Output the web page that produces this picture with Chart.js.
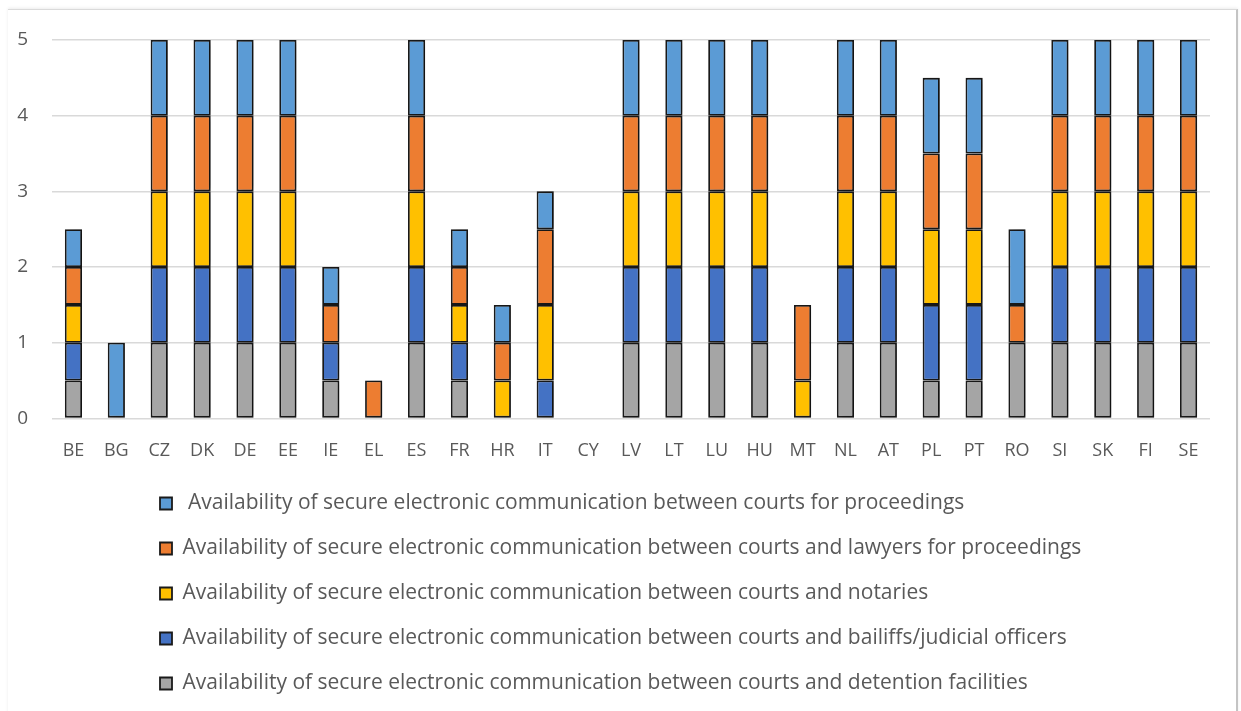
<!DOCTYPE html>
<html>
<head>
<meta charset="utf-8">
<script src="https://cdn.jsdelivr.net/npm/chart.js@4"></script>
<style>
  body { margin: 0; background: #fff; }
  #wrap { position: relative; width: 1241px; height: 711px; }
  #frame {
    position: absolute; left: 8px; top: 9px; width: 1228px; height: 710px;
    border-top: 1px solid #dadada; border-right: 2px solid #c4c4c4;
    box-shadow: 0 -1px 3px rgba(0,0,0,0.08);
    pointer-events: none;
  }
</style>
</head>
<body>
<div id="wrap">
  <canvas id="grafico" width="1241" height="711"></canvas>
  <div id="frame"></div>
</div>
<script>
const paises = ["BE", "BG", "CZ", "DK", "DE", "EE", "IE", "EL", "ES", "FR", "HR", "IT", "CY", "LV", "LT", "LU", "HU", "MT", "NL", "AT", "PL", "PT", "RO", "SI", "SK", "FI", "SE"];

// valores por série, de baixo para cima na pilha
const detencao  = [0.5, 0, 1, 1, 1, 1, 0.5, 0, 1, 0.5, 0,   0,   0, 1, 1, 1, 1, 0,   1, 1, 0.5, 0.5, 1,   1, 1, 1, 1];
const oficiais  = [0.5, 0, 1, 1, 1, 1, 0.5, 0, 1, 0.5, 0,   0.5, 0, 1, 1, 1, 1, 0,   1, 1, 1,   1,   0,   1, 1, 1, 1];
const notarios  = [0.5, 0, 1, 1, 1, 1, 0,   0, 1, 0.5, 0.5, 1,   0, 1, 1, 1, 1, 0.5, 1, 1, 1,   1,   0,   1, 1, 1, 1];
const advogados = [0.5, 0, 1, 1, 1, 1, 0.5, 0.5, 1, 0.5, 0.5, 1, 0, 1, 1, 1, 1, 1,   1, 1, 1,   1,   0.5, 1, 1, 1, 1];
const tribunais = [0.5, 1, 1, 1, 1, 1, 0.5, 0, 1, 0.5, 0.5, 0.5, 0, 1, 1, 1, 1, 0,   1, 1, 1,   1,   1,   1, 1, 1, 1];

const yTicks = [0, 1, 2, 3, 4, 5];

const series = [
    { label: "Availability of secure electronic communication between courts and detention facilities", data: detencao, cor: "#a5a5a5" },
    { label: "Availability of secure electronic communication between courts and bailiffs/judicial officers", data: oficiais, cor: "#4472c4" },
    { label: "Availability of secure electronic communication between courts and notaries", data: notarios, cor: "#ffc000" },
    { label: "Availability of secure electronic communication between courts and lawyers for proceedings", data: advogados, cor: "#ed7d31" },
    { label: " Availability of secure electronic communication between courts for proceedings", data: tribunais, cor: "#5b9bd5" },
];

const fonte = "'Open Sans', sans-serif";
const cinzaTexto = "#595959";

// sombra nas barras, como no original
const sombra = {
    id: "sombra",
    beforeDatasetsDraw(chart) {
        const c = chart.ctx;
        c.save();
        c.shadowColor = "rgba(0,0,0,0.35)";
        c.shadowBlur = 6;
        c.shadowOffsetX = 4;
        c.shadowOffsetY = 0;
    },
    afterDatasetsDraw(chart) {
        chart.ctx.restore();
    },
};

// desloca a legenda para a direita e ajusta a altura
const legendaDesloc = {
    id: "legendaDesloc",
    afterLayout(chart) {
        const lg = chart.legend;
        lg.left += 136;
        lg.top -= 7;
        lg.bottom -= 7;
    },
};

new Chart(document.getElementById("grafico").getContext("2d"), {
    type: "bar",
    data: {
        labels: paises,
        datasets: series.map((s) => ({
            label: s.label,
            data: s.data,
            backgroundColor: s.cor,
            borderColor: "#1a1a1a",
            borderWidth: 1.8,
            borderSkipped: false,
            barPercentage: 0.4,
            categoryPercentage: 1,
        })),
    },
    plugins: [sombra, legendaDesloc],
    options: {
        responsive: false,
        animation: false,
        layout: { padding: { top: 40, right: 31, left: 0, bottom: 0 } },
        plugins: {
            tooltip: { enabled: false },
            legend: {
                position: "bottom",
                align: "start",
                reverse: true,
                labels: {
                    boxWidth: 12,
                    boxHeight: 12,
                    padding: 24,
                    color: cinzaTexto,
                    font: { family: fonte, size: 21 },
                },
            },
        },
        scales: {
            x: {
                stacked: true,
                grid: { display: false },
                border: { display: false },
                ticks: { color: cinzaTexto, padding: 14, font: { family: fonte, size: 18 } },
            },
            y: {
                stacked: true,
                min: 0,
                max: 5,
                afterBuildTicks: (axis) => { axis.ticks = yTicks.map((v) => ({ value: v })); },
                afterFit: (axis) => { axis.width = 52; },
                grid: { color: "#d9d9d9", lineWidth: 1.5, drawTicks: false },
                border: { display: false },
                ticks: { color: cinzaTexto, padding: 24, font: { family: fonte, size: 19 } },
            },
        },
    },
});
</script>
</body>
</html>
